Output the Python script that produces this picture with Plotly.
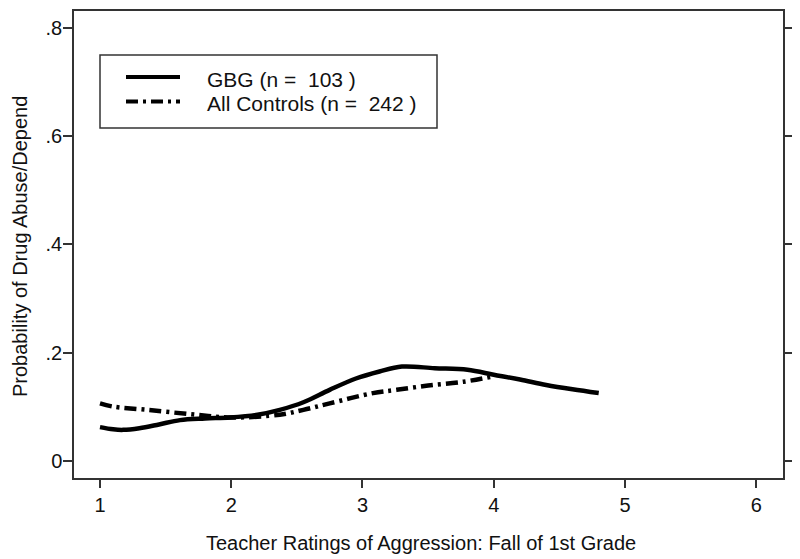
import plotly.graph_objects as go

# GBG (n = 103) smoothed curve
gbg_x = [1.0, 1.1, 1.175, 1.3, 1.45, 1.61, 1.8, 1.99, 2.2, 2.37, 2.55, 2.75, 2.95, 3.13, 3.30, 3.55, 3.80, 4.0, 4.2, 4.40, 4.6, 4.80]
gbg_y = [0.062, 0.058, 0.057, 0.060, 0.067, 0.075, 0.078, 0.080, 0.085, 0.094, 0.108, 0.131, 0.152, 0.165, 0.174, 0.171, 0.168, 0.159, 0.150, 0.140, 0.132, 0.125]

# All Controls (n = 242) smoothed curve
ctl_x = [1.0, 1.10, 1.36, 1.69, 2.0, 2.37, 2.55, 2.75, 3.08, 3.26, 3.50, 3.77, 4.0]
ctl_y = [0.106, 0.100, 0.094, 0.086, 0.080, 0.085, 0.094, 0.106, 0.125, 0.131, 0.139, 0.146, 0.156]

x_ticks = [1, 2, 3, 4, 5, 6]
y_ticks = [0, 0.2, 0.4, 0.6, 0.8]
y_labels = ["0", ".2", ".4", ".6", ".8"]
series_names = ["GBG (n =  103 )", "All Controls (n =  242 )"]

DASHDOT = "12px,5px,3px,5px"
axis_col = "#333333"

# page body has an 8px margin, so the figure is drawn 8px smaller and shifted
OFF = 8
W, H = 800 - OFF, 559 - OFF
L, R, T, B = 74 - OFF, 783 - OFF, 11 - OFF, 478 - OFF
pw, ph = R - L, B - T


def px(x):
    return (x - OFF - L) / pw


def py(y):
    return (B - (y - OFF)) / ph


fig = go.Figure()
fig.add_trace(go.Scatter(x=gbg_x, y=gbg_y, mode="lines", name=series_names[0],
                         line=dict(color="black", width=4.5, shape="spline")))
fig.add_trace(go.Scatter(x=ctl_x, y=ctl_y, mode="lines", name=series_names[1],
                         line=dict(color="black", width=4.5, shape="spline", dash=DASHDOT)))

# legend box drawn by hand to match the wide Stata legend
shapes = [dict(type="rect", xref="paper", yref="paper",
               x0=px(100), x1=px(437), y0=py(128), y1=py(55),
               line=dict(color=axis_col, width=1.5))]
annotations = []
for i, (name, dash) in enumerate(zip(series_names, ["solid", DASHDOT])):
    yy = 77 + 24.5 * i
    shapes.append(dict(type="line", xref="paper", yref="paper",
                       x0=px(126), x1=px(180), y0=py(yy), y1=py(yy),
                       line=dict(color="black", width=4, dash=dash)))
    annotations.append(dict(text=name, xref="paper", yref="paper", x=px(205), y=py(yy + 2),
                            showarrow=False, font=dict(size=21), xanchor="left",
                            yanchor="middle"))

annotations += [
    dict(text="Teacher Ratings of Aggression: Fall of 1st Grade", xref="paper", yref="paper",
         x=px(421), y=py(543), showarrow=False, font=dict(size=20),
         xanchor="center", yanchor="middle"),
    dict(text="Probability of Drug Abuse/Depend", xref="paper", yref="paper",
         x=px(20), y=py(247), showarrow=False, font=dict(size=20),
         textangle=-90, xanchor="center", yanchor="middle"),
]

fig.update_layout(
    width=W, height=H,
    margin=dict(l=L, r=W - R, t=T, b=H - B, autoexpand=False),
    plot_bgcolor="white", paper_bgcolor="white",
    font=dict(family="Liberation Sans, Arial, sans-serif", color="#111111"),
    showlegend=False,
    shapes=shapes,
    annotations=annotations,
)
fig.update_xaxes(range=[0.802, 6.204], tickvals=x_ticks, ticks="outside", ticklen=8,
                 tickcolor=axis_col, tickwidth=1.5, showgrid=False, zeroline=False,
                 showline=True, linecolor=axis_col, linewidth=1.5, mirror=True,
                 tickfont=dict(size=20), automargin=False)
fig.update_yaxes(range=[-0.032, 0.8315], tickvals=y_ticks, ticktext=y_labels,
                 ticks="outside", ticklen=9, tickcolor=axis_col, tickwidth=1.5,
                 showgrid=False, zeroline=False, showline=True, linecolor=axis_col,
                 linewidth=1.5, mirror="ticks", tickfont=dict(size=20), automargin=False,
                 ticklabelstandoff=-3)

fig.write_html("out.html")
